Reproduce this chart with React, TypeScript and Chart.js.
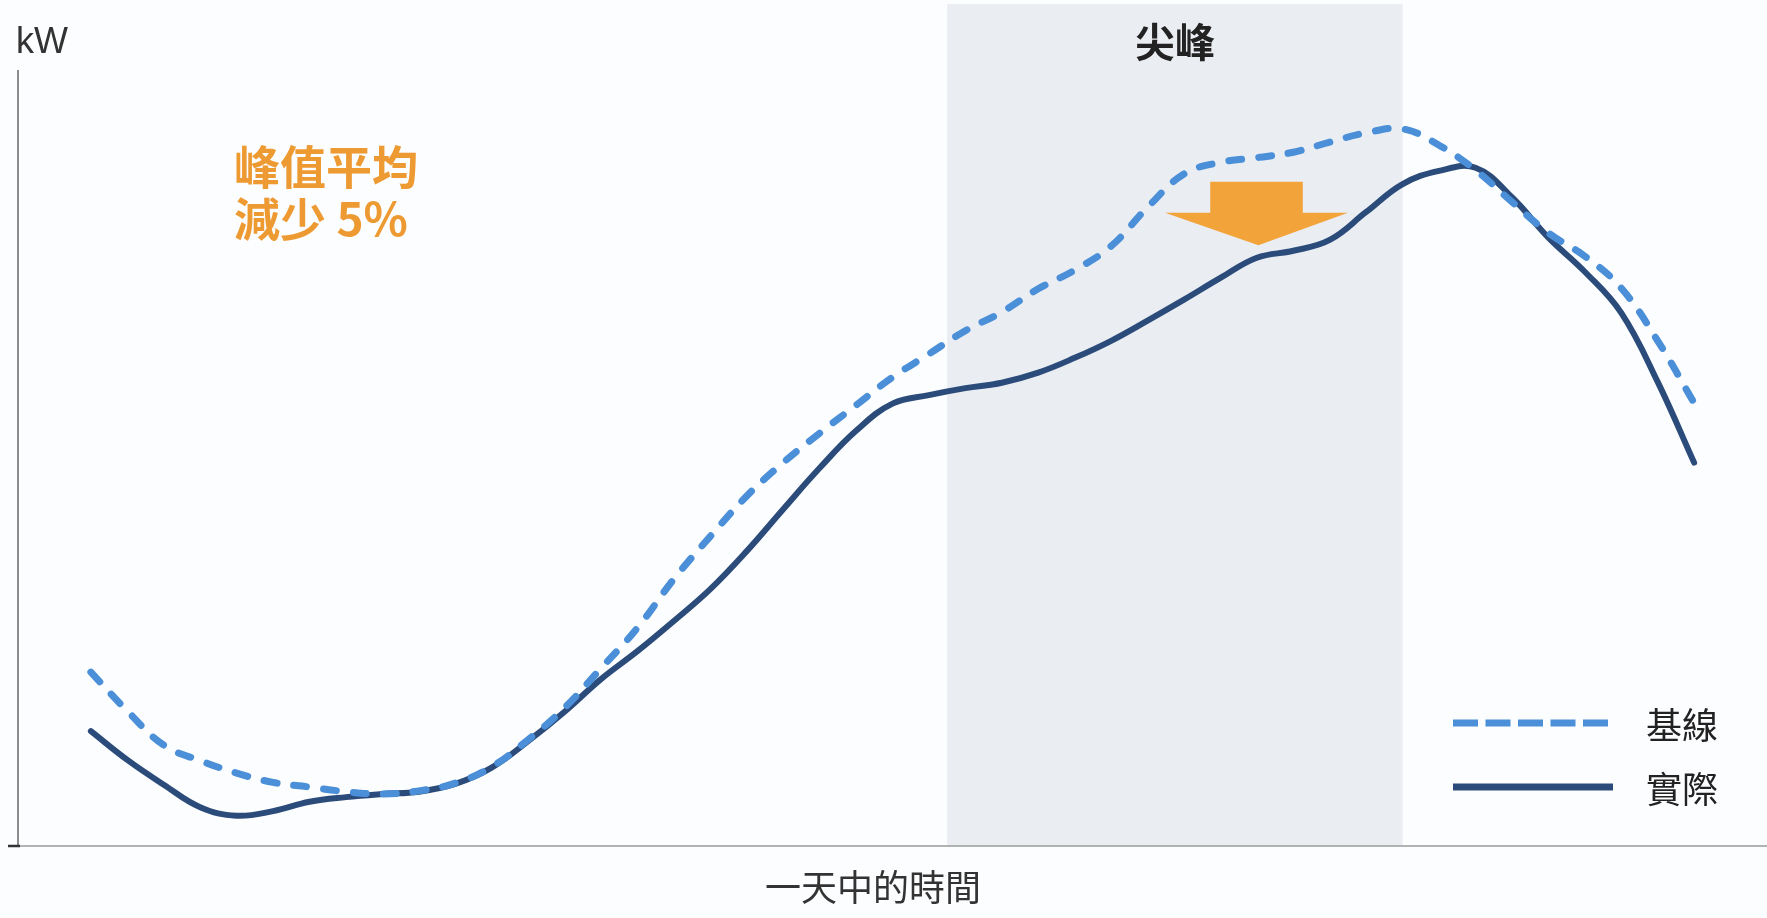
import { useEffect, useRef } from "react";
import { Chart, registerables } from "chart.js";

Chart.register(...registerables);

// Time of day (hours)
const hours = [
  1, 1.5, 2, 2.5, 3, 3.5, 4, 4.5, 5, 5.5, 6, 6.5, 7, 7.5, 8, 8.5, 9, 9.5, 10, 10.5, 11, 11.5,
  12, 12.5, 13, 13.5, 14, 14.5, 15, 15.5, 16, 16.5, 17, 17.5, 18, 18.5, 19, 19.5, 20, 20.5,
  21, 21.5, 22, 22.5, 23,
];

// 基線 (baseline) load, kW
const baselineKw = [
  22.4, 17.4, 13.0, 11.0, 9.4, 8.2, 7.6, 7.0, 6.7, 7.1, 8.1, 10.2, 13.7, 17.8, 22.9, 28.1,
  34.4, 39.9, 45.1, 49.4, 53.2, 56.8, 60.4, 63.4, 66.4, 68.8, 71.8, 74.2, 77.3, 82.3, 86.6,
  88.1, 88.7, 89.4, 90.7, 91.9, 92.4, 90.3, 87.1, 83.0, 79.0, 76.0, 71.9, 65.1, 57.1,
];

// 實際 (actual) load, kW
const actualKw = [
  14.8, 11.1, 7.9, 5.0, 3.9, 4.5, 5.7, 6.3, 6.7, 7.0, 8.0, 10.1, 13.5, 17.3, 21.5, 25.1,
  29.0, 33.1, 38.0, 43.4, 48.7, 53.5, 57.0, 58.1, 59.0, 59.7, 61.0, 62.9, 65.1, 67.7, 70.4,
  73.2, 75.8, 76.7, 78.1, 81.7, 85.3, 87.0, 87.4, 83.6, 78.4, 74.0, 68.7, 59.8, 49.4,
];

const seriesNames = ["基線", "實際"];
const peakLabel = "尖峰";
const noteLines = ["峰值平均", "減少 5%"];
const yUnit = "kW";
const xTitle = "一天中的時間";

const peakWindow = [12.75, 19.0];
const xRange = [0, 24];
const yMax = 108.5;
const yAxisTop = 100;

// Down arrow, in data units (hours / kW)
const arrowShape = {
  stemLeft: 16.36,
  stemRight: 17.63,
  headLeft: 15.74,
  headRight: 18.25,
  tipX: 17.02,
  stemTop: 85.6,
  headBase: 81.6,
  tipY: 77.4,
};

const BASE_COLOR = "#4a8fd8";
const ACTUAL_COLOR = "#2b4c7a";
const ORANGE = "#f2a33a";
const NOTE_COLOR = "#ee9a33";
const CJK = '"Noto Sans CJK TC", "Noto Sans CJK SC", "Noto Sans", sans-serif';

const decorPlugin = {
  id: "decor",
  beforeDraw(chart: any) {
    const { ctx, chartArea } = chart;
    const x = chart.scales.x;
    const y = chart.scales.y;
    ctx.save();
    ctx.fillStyle = "#fcfdfe";
    ctx.fillRect(0, 0, chart.width, chart.height);

    const xl = x.getPixelForValue(peakWindow[0]);
    const xr = x.getPixelForValue(peakWindow[1]);
    const y0 = y.getPixelForValue(0);
    ctx.fillStyle = "#eaedf2";
    ctx.fillRect(xl, chartArea.top, xr - xl, y0 - chartArea.top);

    // y axis
    ctx.strokeStyle = "#666";
    ctx.lineWidth = 1.5;
    ctx.beginPath();
    ctx.moveTo(chartArea.left, y.getPixelForValue(yAxisTop));
    ctx.lineTo(chartArea.left, y0);
    ctx.stroke();
    // x axis
    ctx.strokeStyle = "#9a9a9a";
    ctx.beginPath();
    ctx.moveTo(chartArea.left, y0);
    ctx.lineTo(chartArea.right, y0);
    ctx.stroke();
    ctx.strokeStyle = "#333";
    ctx.lineWidth = 2.5;
    ctx.beginPath();
    ctx.moveTo(chartArea.left - 10, y0);
    ctx.lineTo(chartArea.left + 2, y0);
    ctx.stroke();

    // texts
    ctx.fillStyle = "#333";
    ctx.font = '36px "Liberation Sans", Arial, sans-serif';
    ctx.textAlign = "left";
    ctx.textBaseline = "alphabetic";
    ctx.fillText(yUnit, chartArea.left - 2, 53);

    ctx.font = `36px ${CJK}`;
    ctx.textAlign = "center";
    ctx.textBaseline = "middle";
    ctx.fillText(xTitle, 873, 887);

    ctx.fillStyle = "#222";
    ctx.font = `bold 40px ${CJK}`;
    ctx.fillText(peakLabel, (xl + xr) / 2, 42);

    ctx.fillStyle = NOTE_COLOR;
    ctx.font = `bold 46px ${CJK}`;
    ctx.textAlign = "left";
    ctx.fillText(noteLines[0], 234, 167);
    ctx.fillText(noteLines[1], 234, 219);
    ctx.restore();
  },
  afterDatasetsDraw(chart: any) {
    const { ctx } = chart;
    const x = chart.scales.x;
    const y = chart.scales.y;
    ctx.save();
    // arrow
    const a = arrowShape;
    ctx.fillStyle = ORANGE;
    ctx.beginPath();
    ctx.moveTo(x.getPixelForValue(a.stemLeft), y.getPixelForValue(a.stemTop));
    ctx.lineTo(x.getPixelForValue(a.stemRight), y.getPixelForValue(a.stemTop));
    ctx.lineTo(x.getPixelForValue(a.stemRight), y.getPixelForValue(a.headBase));
    ctx.lineTo(x.getPixelForValue(a.headRight), y.getPixelForValue(a.headBase));
    ctx.lineTo(x.getPixelForValue(a.tipX), y.getPixelForValue(a.tipY));
    ctx.lineTo(x.getPixelForValue(a.headLeft), y.getPixelForValue(a.headBase));
    ctx.lineTo(x.getPixelForValue(a.stemLeft), y.getPixelForValue(a.headBase));
    ctx.closePath();
    ctx.fill();

    // legend
    ctx.lineWidth = 7;
    ctx.lineCap = "butt";
    ctx.strokeStyle = BASE_COLOR;
    ctx.setLineDash([25, 7.5]);
    ctx.beginPath();
    ctx.moveTo(1453, 723);
    ctx.lineTo(1613, 723);
    ctx.stroke();
    ctx.setLineDash([]);
    ctx.strokeStyle = ACTUAL_COLOR;
    ctx.beginPath();
    ctx.moveTo(1453, 787);
    ctx.lineTo(1613, 787);
    ctx.stroke();

    ctx.fillStyle = "#222";
    ctx.font = `36px ${CJK}`;
    ctx.textAlign = "left";
    ctx.textBaseline = "middle";
    ctx.fillText(seriesNames[0], 1646, 725);
    ctx.fillText(seriesNames[1], 1646, 789);
    ctx.restore();
  },
};

export default function App() {
  const canvasRef = useRef<HTMLCanvasElement | null>(null);

  useEffect(() => {
    const canvas = canvasRef.current;
    if (!canvas) return;
    const chart = new Chart(canvas, {
      type: "line",
      data: {
        datasets: [
          {
            label: seriesNames[0],
            data: hours.map((h, i) => ({ x: h, y: baselineKw[i] })),
            borderColor: BASE_COLOR,
            borderWidth: 7,
            borderDash: [13, 17],
            borderCapStyle: "round",
            borderJoinStyle: "round",
            pointRadius: 0,
            tension: 0.4,
            fill: false,
          },
          {
            label: seriesNames[1],
            data: hours.map((h, i) => ({ x: h, y: actualKw[i] })),
            borderColor: ACTUAL_COLOR,
            borderWidth: 6,
            borderCapStyle: "round",
            borderJoinStyle: "round",
            pointRadius: 0,
            tension: 0.4,
            fill: false,
          },
        ],
      },
      options: {
        responsive: false,
        devicePixelRatio: 1,
        animation: false,
        layout: { padding: { left: 18, right: 0, top: 4, bottom: 72 } },
        scales: {
          x: { type: "linear", min: xRange[0], max: xRange[1], display: false },
          y: { type: "linear", min: 0, max: yMax, display: false },
        },
        plugins: {
          legend: { display: false },
          tooltip: { enabled: false },
          title: { display: false },
        },
      },
      plugins: [decorPlugin],
    } as any);
    return () => chart.destroy();
  }, []);

  return (
    <div style={{ position: "absolute", left: 0, top: 0, width: 1767, height: 918 }}>
      <canvas ref={canvasRef} width={1767} height={918} style={{ display: "block" }} />
    </div>
  );
}
